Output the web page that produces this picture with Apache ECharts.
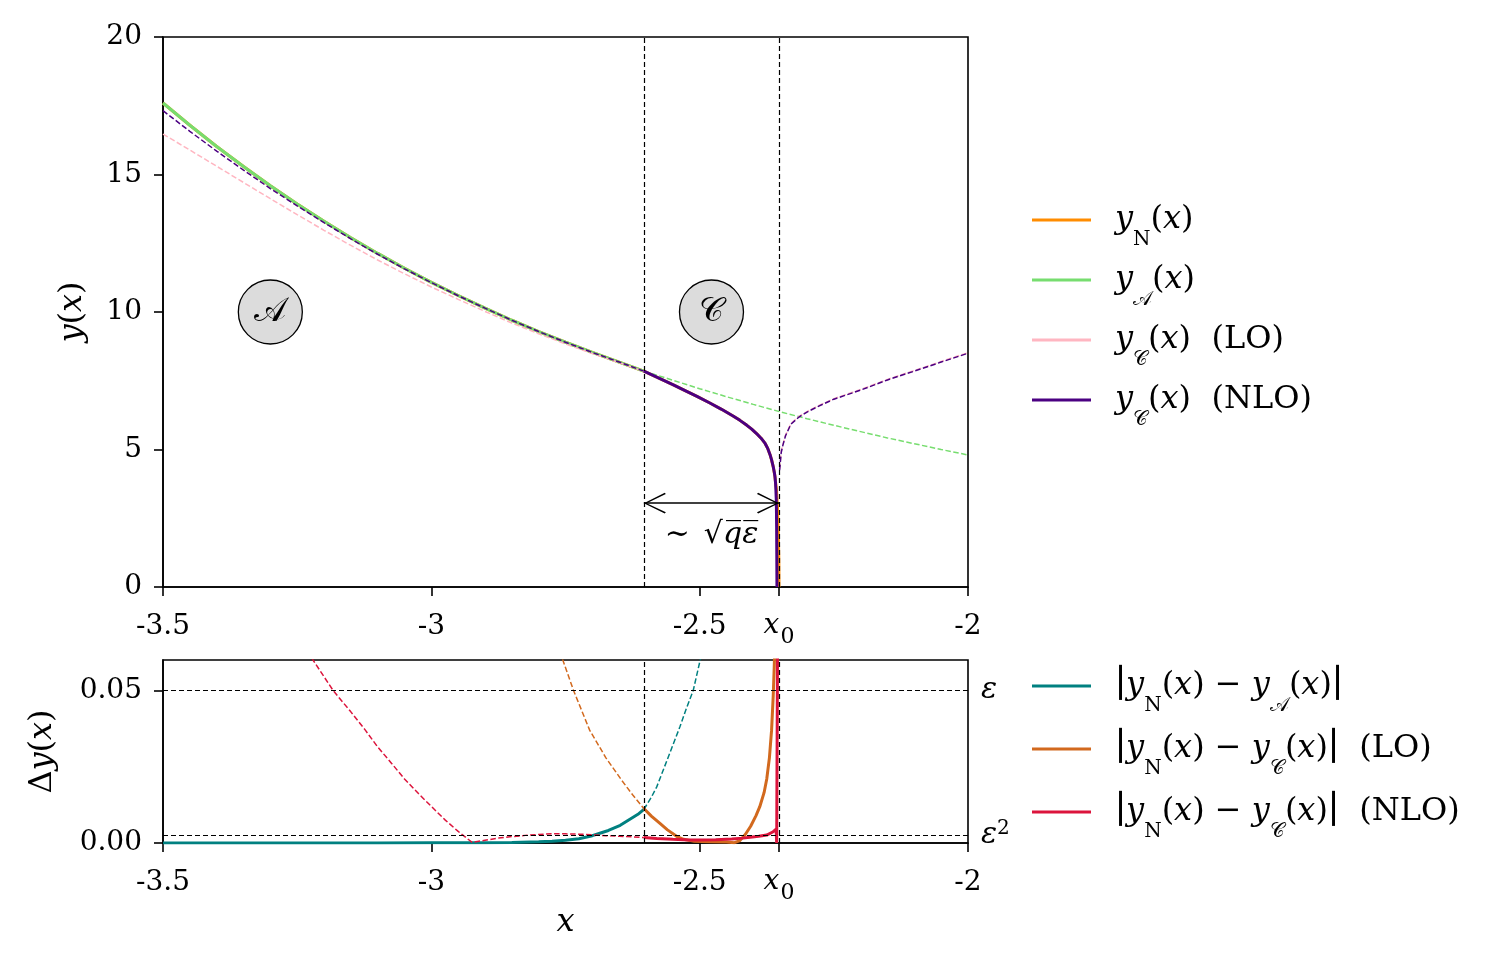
<!DOCTYPE html>
<html><head><meta charset="utf-8">
<script src="https://cdn.jsdelivr.net/npm/echarts@6/dist/echarts.min.js"></script>
<style>html,body{margin:0;padding:0;background:#fff}#c{width:1506px;height:969px}</style>
</head><body><div id="c"></div>
<script>
// ---------- constants / ticks ----------
const X0 = -2.3522;          // x0 (singular point)
const XL = -2.604;           // left boundary of region C
const X_TICKS = [-3.5, -3, -2.5, X0, -2];
const Y_TOP_TICKS = [0, 5, 10, 15, 20];
const Y_BOT_TICKS = [0, 0.05];
const EPS = 0.05, EPS2 = 0.0025;
const ARROW_Y = 3.05;
const REGION_LABELS = [{x: -3.3, y: 10, t: '𝒜'}, {x: -2.478, y: 10, t: '𝒞'}];
const SQRT_LABEL = {x: -2.478, y: 1.9};

// ---------- top panel data ----------
const XA = [-3.50,-3.45,-3.40,-3.35,-3.30,-3.25,-3.20,-3.15,-3.10,-3.05,-3.00,-2.95,-2.90,-2.85,-2.80,-2.75,-2.70,-2.65,-2.604];
const YN_A = [17.60,16.79,16.02,15.29,14.59,13.93,13.30,12.70,12.13,11.59,11.08,10.60,10.14,9.70,9.29,8.90,8.53,8.18,7.85];
const YA_A = [17.60,16.79,16.02,15.29,14.59,13.93,13.30,12.70,12.13,11.59,11.08,10.60,10.14,9.70,9.29,8.90,8.53,8.18,7.85];
const YLO_A = [16.47,15.89,15.30,14.71,14.12,13.54,12.97,12.42,11.89,11.39,10.91,10.46,10.02,9.60,9.21,8.84,8.49,8.16,7.84];
const YNLO_A = [17.32,16.57,15.85,15.16,14.49,13.86,13.25,12.66,12.10,11.57,11.07,10.59,10.14,9.70,9.29,8.90,8.53,8.18,7.85];

const XC = [-2.604,-2.574,-2.55,-2.53,-2.505,-2.481,-2.46,-2.437,-2.425,-2.412,-2.403,-2.394,-2.386,-2.378,-2.373,-2.369,-2.366,-2.363,-2.361,-2.3596,-2.3587,-2.358,-2.3573,-2.357,-2.3566,-2.3563,-2.356];
const YNLO_C = [7.85,7.58,7.36,7.17,6.93,6.69,6.47,6.21,6.06,5.88,5.74,5.58,5.42,5.22,5.03,4.82,4.62,4.38,4.18,4.00,3.80,3.55,3.20,2.90,2.20,1.20,0.00];
const YLO_C = [7.84,7.57,7.35,7.16,6.92,6.68,6.46,6.20,6.05,5.87,5.73,5.57,5.41,5.21,5.02,4.81,4.61,4.37,4.17,3.99,3.79,3.54,3.19,2.89,2.19,1.19,0.00];
const XN_C = [-2.604,-2.574,-2.55,-2.53,-2.505,-2.481,-2.46,-2.437,-2.425,-2.412,-2.403,-2.394,-2.386,-2.378,-2.373,-2.369,-2.366,-2.363,-2.360,-2.357,-2.355,-2.3535,-2.3525,-2.3522];
const YN_C = [7.85,7.58,7.36,7.17,6.93,6.69,6.47,6.21,6.06,5.88,5.74,5.58,5.42,5.22,5.03,4.82,4.62,4.38,4.05,3.55,2.90,2.00,1.00,0.00];

const XR = [-2.351,-2.348,-2.345,-2.34,-2.33,-2.315,-2.30,-2.28,-2.25,-2.20,-2.15,-2.10,-2.05,-2.00];
const YNLO_R = [4.25,4.90,5.15,5.50,5.92,6.18,6.36,6.56,6.83,7.16,7.53,7.85,8.18,8.50];
const YLO_R = [4.30,4.92,5.17,5.52,5.94,6.20,6.38,6.58,6.85,7.18,7.55,7.87,8.20,8.52];
const XA_R = [-2.604,-2.55,-2.50,-2.45,-2.40,-2.35,-2.30,-2.25,-2.20,-2.15,-2.10,-2.05,-2.00];
const YA_R = [7.85,7.52,7.21,6.92,6.64,6.37,6.12,5.88,5.65,5.42,5.21,5.00,4.80];

// ---------- bottom panel data ----------
const XT1 = [-3.50,-3.30,-3.10,-3.00,-2.90,-2.85,-2.80,-2.775,-2.75,-2.725,-2.70,-2.686,-2.67,-2.648,-2.63,-2.615,-2.604];
const DT1 = [0,0.00001,0.00002,0.00005,0.0001,0.0002,0.0004,0.0006,0.0009,0.0014,0.0024,0.0032,0.0041,0.0058,0.0078,0.0094,0.0110];
const XT2 = [-2.604,-2.59,-2.58,-2.56,-2.537,-2.525,-2.512,-2.499,-2.49];
const DT2 = [0.0110,0.0150,0.0184,0.0275,0.0380,0.0440,0.0500,0.0600,0.0680];

const XO1 = [-2.80,-2.78,-2.755,-2.735,-2.705,-2.675,-2.645,-2.625,-2.604];
const DO1 = [0.088,0.074,0.060,0.050,0.037,0.028,0.0205,0.0158,0.0113];
const XO2 = [-2.604,-2.59,-2.574,-2.56,-2.543,-2.53,-2.51,-2.48,-2.45,-2.435,-2.425,-2.415,-2.405,-2.395,-2.388,-2.38,-2.375,-2.37,-2.366,-2.363,-2.361,-2.359];
const DO2 = [0.0113,0.0088,0.0064,0.0043,0.0022,0.0012,0.0006,0.0004,0.0003,0.0001,0.0008,0.0028,0.0055,0.0090,0.0119,0.0165,0.0210,0.0280,0.0370,0.0480,0.0580,0.0700];

const XR1 = [-3.26,-3.2205,-3.183,-3.15,-3.123,-3.10,-3.074,-3.05,-3.024,-3.00,-2.974,-2.95,-2.924,-2.90,-2.875,-2.85,-2.825,-2.80,-2.775,-2.75,-2.725,-2.70,-2.675,-2.65,-2.625,-2.604];
const DR1 = [0.075,0.060,0.050,0.043,0.037,0.0315,0.0261,0.0210,0.0162,0.0120,0.0075,0.0038,0.0002,0.0009,0.0016,0.0021,0.0025,0.0028,0.0030,0.0030,0.0029,0.0027,0.0024,0.0022,0.0020,0.0018];
const XR2 = [-2.604,-2.58,-2.55,-2.52,-2.50,-2.47,-2.44,-2.42,-2.406,-2.39,-2.375,-2.363,-2.3575,-2.3565,-2.3545];
const DR2 = [0.0018,0.0015,0.0012,0.0010,0.0010,0.0011,0.0013,0.0016,0.0019,0.0022,0.0026,0.0037,0.0045,0.0,0.08];

// ---------- styling ----------
const SERIF = "'DejaVu Serif', serif";
const CAL = "'DejaVu Sans','DejaVu Serif','Noto Sans',serif";
const C = {yN:'#ff8c00', yA:'#77dd6f', lo:'#ffb6c1', nlo:'#4b0082', d1:'#008080', d2:'#d2691e', d3:'#dc143c'};
const DASH = [5.5, 2.5];
const zip = (xs, ys) => xs.map((x, i) => [x, ys[i]]);

function line(name, data, color, dashed, ax, extra) {
  return Object.assign({
    type: 'line', name, data, xAxisIndex: ax, yAxisIndex: ax,
    showSymbol: false, symbol: 'none', animation: false, clip: true,
    lineStyle: {color, width: dashed ? 1.5 : 3, type: dashed ? DASH : 'solid'},
    itemStyle: {color}, emphasis: {disabled: true}
  }, extra || {});
}

const LFS = 32, LSUB = 20;
const legendRich = {
  i: {fontFamily: SERIF, fontStyle: 'italic', fontSize: LFS, color: '#000', verticalAlign: 'middle', lineHeight: 40},
  r: {fontFamily: SERIF, fontSize: LFS, color: '#000', verticalAlign: 'middle', lineHeight: 40},
  b: {fontFamily: SERIF, fontSize: 38, color: '#000', verticalAlign: 'middle', lineHeight: 40},
  s: {fontFamily: SERIF, fontSize: LSUB, color: '#000', verticalAlign: 'top', lineHeight: 22, padding: [30, 0, 0, 0]},
  c: {fontFamily: CAL, fontSize: LSUB, color: '#000', verticalAlign: 'top', lineHeight: 22, padding: [30, 0, 0, 0]},
  sp: {width: 19, verticalAlign: 'middle', lineHeight: 40}
};
const LEG_TEXT = {
  yN: '{sp| }{i|y}{s|N}{r|(}{i|x}{r|)}',
  yA: '{sp| }{i|y}{c|𝒜}{r|(}{i|x}{r|)}',
  yCLO: '{sp| }{i|y}{c|𝒞}{r|(}{i|x}{r|)  (LO)}',
  yCNLO: '{sp| }{i|y}{c|𝒞}{r|(}{i|x}{r|)  (NLO)}',
  d1: '{sp| }{b|\u2223}{i|y}{s|N}{r|(}{i|x}{r|) − }{i|y}{c|𝒜}{r|(}{i|x}{r|)}{b|\u2223}',
  d2: '{sp| }{b|\u2223}{i|y}{s|N}{r|(}{i|x}{r|) − }{i|y}{c|𝒞}{r|(}{i|x}{r|)}{b|\u2223}{r|  (LO)}',
  d3: '{sp| }{b|\u2223}{i|y}{s|N}{r|(}{i|x}{r|) − }{i|y}{c|𝒞}{r|(}{i|x}{r|)}{b|\u2223}{r|  (NLO)}'
};

const TFS = 28;
const tickRich = {
  i: {fontFamily: SERIF, fontStyle: 'italic', fontSize: TFS, lineHeight: 30, verticalAlign: 'top', color: '#000'},
  s: {fontFamily: SERIF, fontSize: 22, lineHeight: 22, verticalAlign: 'top', padding: [14, 0, 0, 1], color: '#000'}
};
const nameRich = {
  i: {fontFamily: SERIF, fontStyle: 'italic', fontSize: 32, color: '#000'},
  r: {fontFamily: SERIF, fontSize: 32, color: '#000'}
};

function xAxis(gi, extra) {
  return Object.assign({
    gridIndex: gi, type: 'value', min: -3.5, max: -2,
    axisLine: {show: true, lineStyle: {color: '#000', width: 1.6}},
    axisTick: {show: true, inside: false, length: 9, lineStyle: {color: '#000', width: 1.6}, customValues: X_TICKS},
    axisLabel: {customValues: X_TICKS, margin: 25, fontFamily: SERIF, fontSize: TFS, lineHeight: 30, color: '#000',
      rich: tickRich, hideOverlap: false,
      formatter: v => Math.abs(v - X0) < 1e-6 ? '{i|x}{s|0}' : String(v)},
    splitLine: {show: false}
  }, extra || {});
}
function yAxis(gi, min, max, ticks, fmt, extra) {
  return Object.assign({
    gridIndex: gi, type: 'value', min, max,
    axisLine: {show: true, lineStyle: {color: '#000', width: 1.6}},
    axisTick: {show: true, inside: false, length: 9, lineStyle: {color: '#000', width: 1.6}, customValues: ticks},
    axisLabel: {customValues: ticks, margin: 21, fontFamily: SERIF, fontSize: TFS, color: '#000', formatter: fmt},
    splitLine: {show: false},
    nameLocation: 'middle', nameRotate: 90, nameTextStyle: {rich: nameRich}
  }, extra || {});
}

const VLINE = {color: '#000', width: 1.2, type: [5, 3]};
const CHEV = 'path://M0,0L0.04,0L0,0.04Z M20,0L19.96,0L20,0.04Z M10,10L14.7,19.5L14.1,20L10,11.3L5.9,20L5.3,19.5Z';

const option = {
  backgroundColor: '#fff',
  animation: false,
  grid: [
    {left: 163, top: 37, width: 805, height: 550, show: true, borderColor: '#000', borderWidth: 1.6, backgroundColor: 'transparent'},
    {left: 163, top: 660, width: 805, height: 183, show: true, borderColor: '#000', borderWidth: 1.6, backgroundColor: 'transparent'}
  ],
  xAxis: [
    xAxis(0),
    xAxis(1, {name: '{i|x}', nameLocation: 'middle', nameGap: 64, nameTextStyle: {rich: nameRich}})
  ],
  yAxis: [
    yAxis(0, 0, 20, Y_TOP_TICKS, v => String(v), {name: '{i|y}{r|(}{i|x}{r|)}', nameGap: 74}),
    yAxis(1, 0, 0.06, Y_BOT_TICKS, v => v.toFixed(2), {name: '{r|Δ}{i|y}{r|(}{i|x}{r|)}', nameGap: 104})
  ],
  legend: [
    {orient: 'vertical', left: 1027, top: 195, itemWidth: 59, itemHeight: 3, icon: 'rect', itemGap: 10,
     selectedMode: false, data: ['yN', 'yA', 'yCLO', 'yCNLO'], formatter: n => LEG_TEXT[n], textStyle: {rich: legendRich}},
    {orient: 'vertical', left: 1027, top: 661, itemWidth: 59, itemHeight: 3, icon: 'rect', itemGap: 13,
     selectedMode: false, data: ['d1', 'd2', 'd3'], formatter: n => LEG_TEXT[n], textStyle: {rich: legendRich}}
  ],
  series: [
    line('yN', zip(XA, YN_A).concat(zip(XN_C.slice(1), YN_C.slice(1))), C.yN, false, 0, {
      markPoint: {
        silent: true, animation: false,
        symbol: 'circle', symbolSize: 64,
        itemStyle: {color: '#dcdcdc', borderColor: '#000', borderWidth: 1.3},
        label: {show: true, position: 'inside', color: '#000', fontFamily: CAL, fontSize: 34, formatter: p => p.data.t},
        data: REGION_LABELS.map(r => ({coord: [r.x, r.y], t: r.t})).concat([{
          coord: [SQRT_LABEL.x, SQRT_LABEL.y], t: '', symbolSize: 1,
          itemStyle: {color: 'rgba(0,0,0,0)', borderWidth: 0},
          label: {show: true, position: 'inside', fontFamily: SERIF, fontSize: 30, color: '#000',
            formatter: '{t|∼}{sp| }{t|√}{o|q\u0305ε\u0305}',
            rich: {t: {fontFamily: SERIF, fontSize: 30}, sp: {width: 14}, o: {fontFamily: SERIF, fontStyle: 'italic', fontSize: 30}}}
        }])
      }
    }),
    line('yA', zip(XA, YA_A), C.yA, false, 0, {
      markLine: {silent: true, animation: false, symbol: ['none', 'none'], label: {show: false}, lineStyle: VLINE, precision: 4,
        data: [{xAxis: XL}, {xAxis: X0}]}
    }),
    line('yA_d', zip(XA_R, YA_R), C.yA, true, 0, {
      markLine: {silent: true, animation: false, symbol: [CHEV, CHEV], symbolSize: 44, label: {show: false}, precision: 4,
        lineStyle: {color: '#000', width: 1.5, type: 'solid'},
        data: [[{coord: [XL, ARROW_Y]}, {coord: [X0, ARROW_Y]}]]}
    }),
    line('yCLO', zip(XA, YLO_A).concat(zip(XC.slice(1), YLO_C.slice(1))), C.lo, true, 0),
    line('yCLO_r', zip(XR, YLO_R), C.lo, true, 0),
    line('yCNLO_a', zip(XA, YNLO_A), C.nlo, true, 0),
    line('yCNLO', zip(XC, YNLO_C), C.nlo, false, 0),
    line('yCNLO_r', zip(XR, YNLO_R), C.nlo, true, 0),

    line('d1', zip(XT1, DT1), C.d1, false, 1, {
      markLine: {silent: true, animation: false, symbol: ['none', 'none'], lineStyle: VLINE, precision: 5,
        data: [
          {xAxis: XL, label: {show: false}},
          {xAxis: X0, label: {show: false}},
          {yAxis: EPS, label: {show: true, position: 'end', distance: 13, formatter: '{i|ε}',
            rich: {i: {fontFamily: SERIF, fontStyle: 'italic', fontSize: 30, color: '#000'}}}},
          {yAxis: EPS2, label: {show: true, position: 'end', distance: 13, formatter: '{i|ε}{u|2}',
            rich: {i: {fontFamily: SERIF, fontStyle: 'italic', fontSize: 30, color: '#000', verticalAlign: 'middle', lineHeight: 34},
                   u: {fontFamily: SERIF, fontSize: 20, color: '#000', verticalAlign: 'top', lineHeight: 16}}}}
        ]}
    }),
    line('d1_d', zip(XT2, DT2), C.d1, true, 1),
    line('d2_d', zip(XO1, DO1), C.d2, true, 1),
    line('d2', zip(XO2, DO2), C.d2, false, 1),
    line('d3_d', zip(XR1, DR1), C.d3, true, 1),
    line('d3', zip(XR2, DR2), C.d3, false, 1)
  ]
};

const chart = echarts.init(document.getElementById('c'), null, {renderer: 'canvas'});
chart.setOption(option);
</script></body></html>
